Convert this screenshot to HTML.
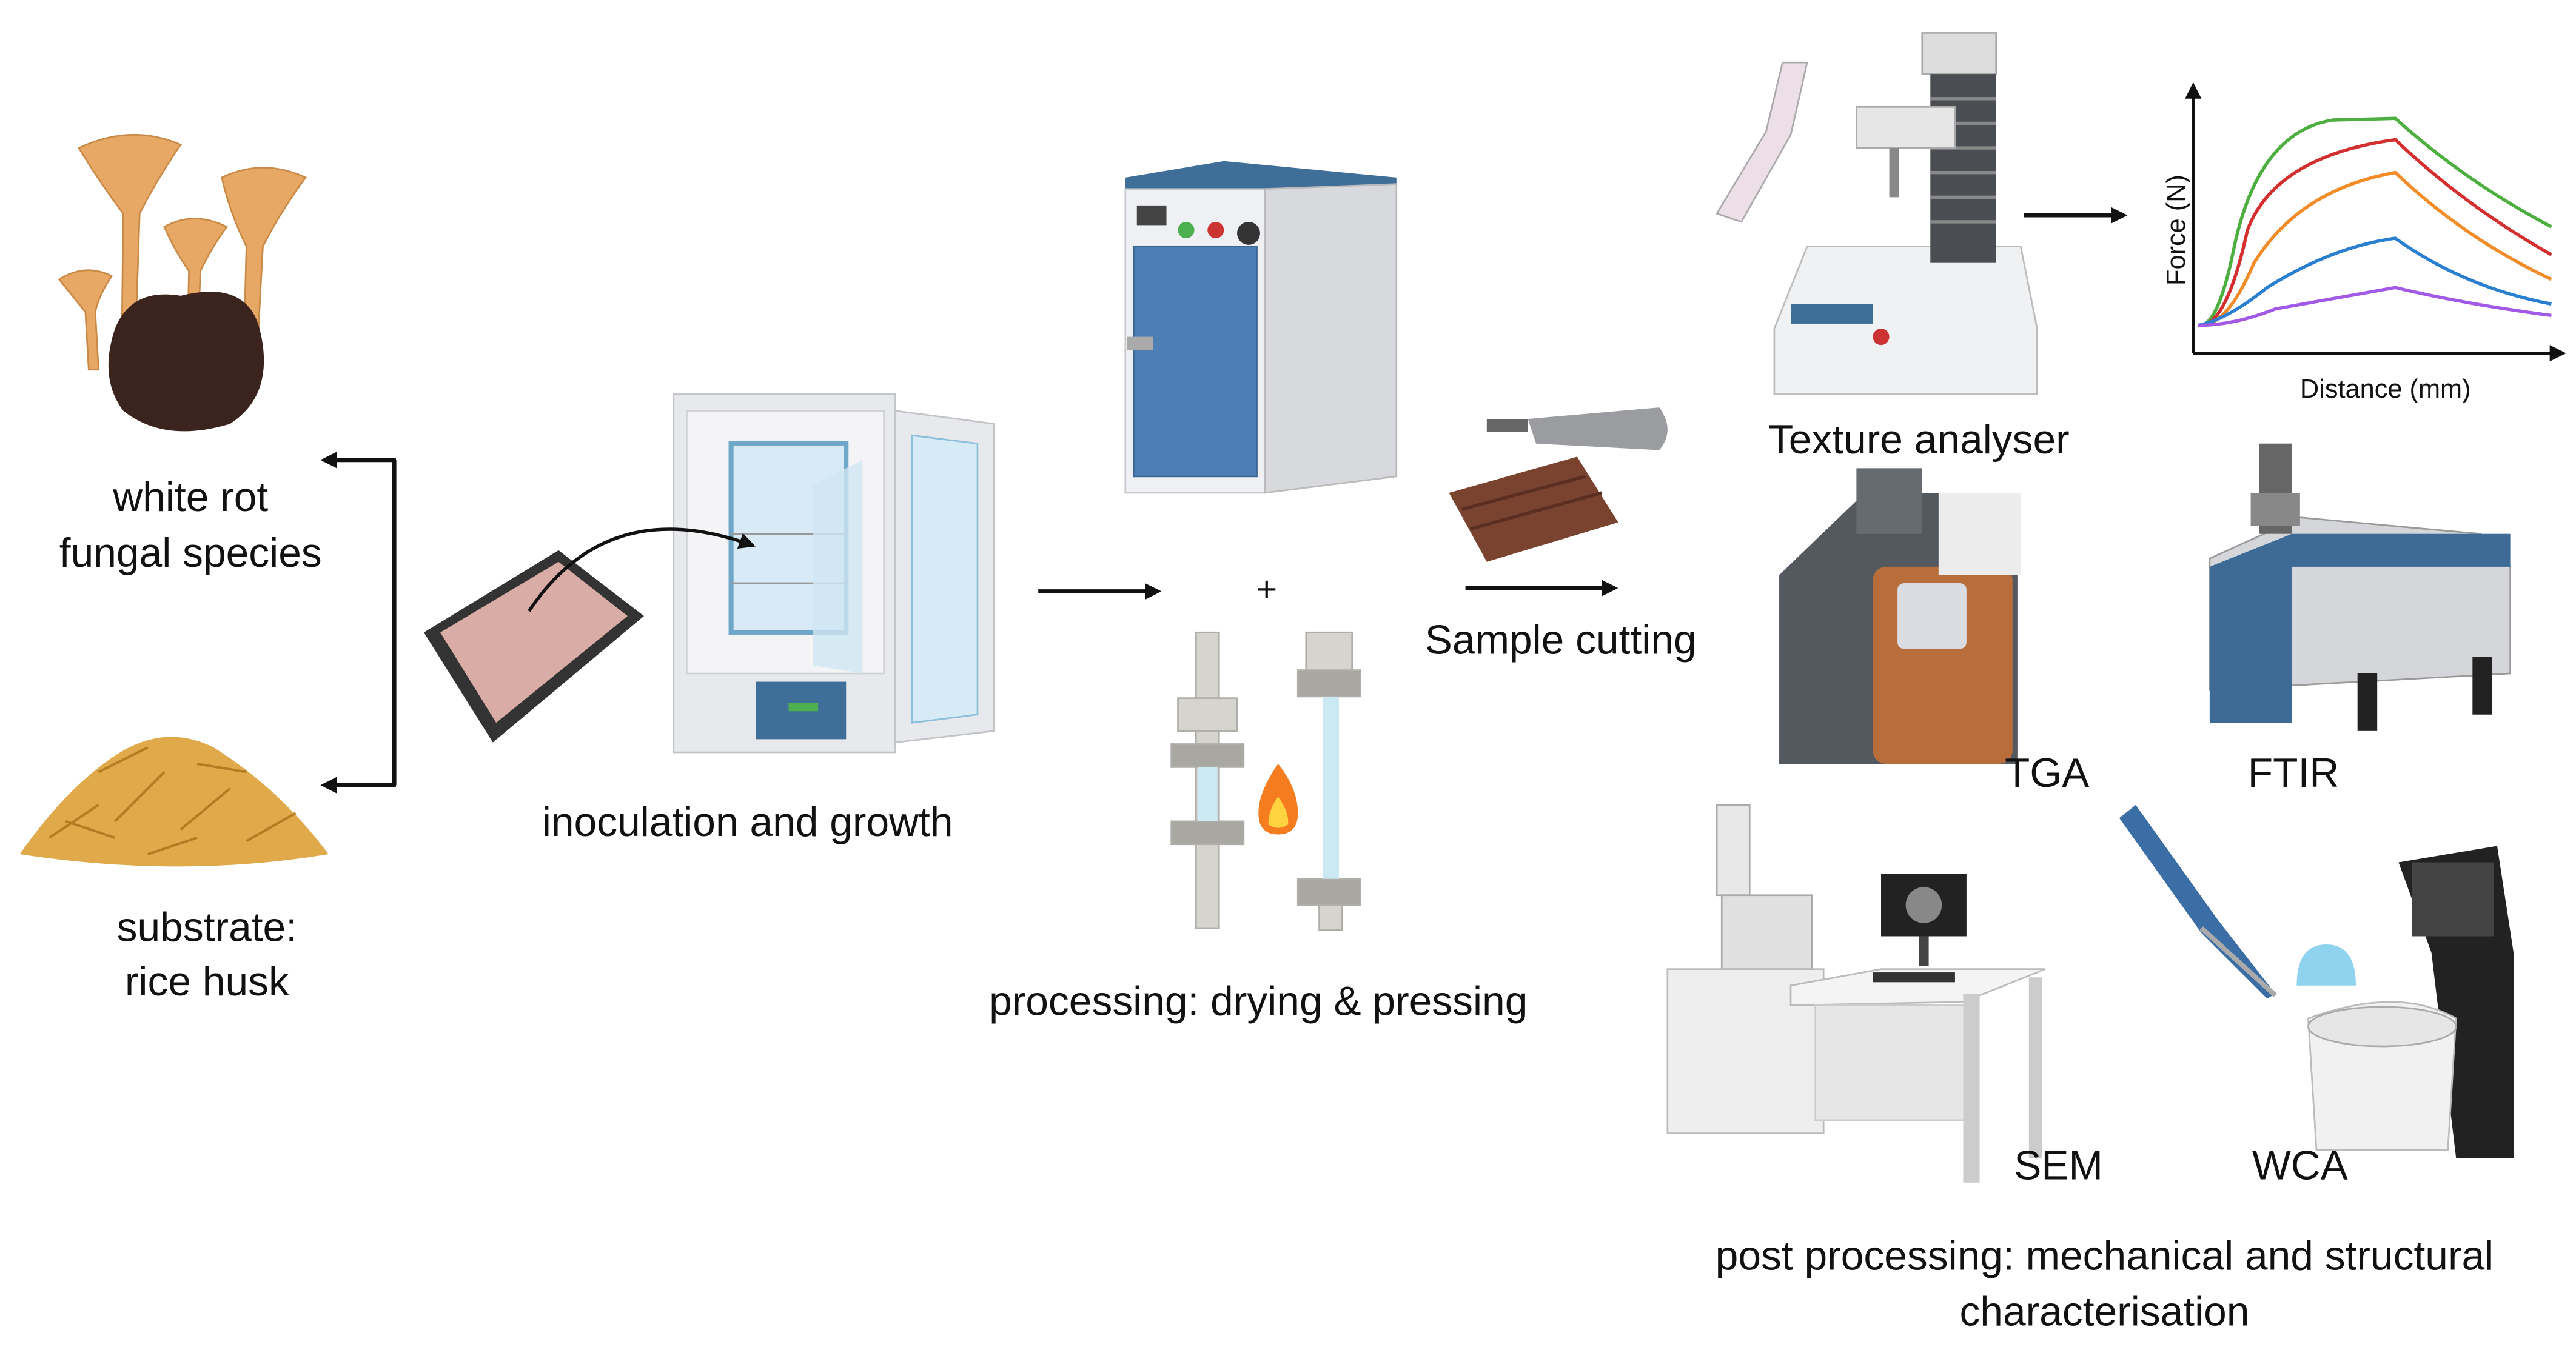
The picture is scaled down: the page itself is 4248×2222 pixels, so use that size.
<!DOCTYPE html>
<html><head><meta charset="utf-8"><style>
html,body{margin:0;padding:0;background:#fff;}
svg{display:block;}
text{font-family:"Liberation Sans",sans-serif;fill:#111;}
</style></head><body>
<svg width="4248" height="2222" viewBox="0 0 1568 820" xmlns="http://www.w3.org/2000/svg">
<defs>
<marker id="ah" markerWidth="10" markerHeight="10" refX="8" refY="5" orient="auto" markerUnits="userSpaceOnUse"><path d="M0,0 L10,5 L0,10 z" fill="#111"/></marker>
</defs>
<rect width="1568" height="820" fill="#fff"/>

<!-- mushrooms -->
<g fill="#e7a865" stroke="#c98a48" stroke-width="1">
<path d="M48,90 Q80,75 110,88 Q95,110 85,130 L82,220 L74,220 L75,130 Q60,110 48,90z"/>
<path d="M135,108 Q160,96 186,108 Q170,130 160,150 L156,225 L148,225 L150,150 Q140,130 135,108z"/>
<path d="M100,138 Q118,128 138,138 Q128,152 122,165 L120,215 L114,215 L115,165 Q106,152 100,138z"/>
<path d="M36,170 Q52,160 68,168 Q60,180 58,190 L60,225 L54,225 L52,190 Q44,180 36,170z"/>
</g>
<path d="M70,200 Q80,175 110,180 Q150,170 158,200 Q168,240 140,258 Q100,270 75,250 Q60,230 70,200z" fill="#3b241d"/>
<text x="116" y="311" font-size="25" text-anchor="middle">white rot</text>
<text x="116" y="345" font-size="25" text-anchor="middle">fungal species</text>

<!-- rice husk -->
<path d="M12,520 Q40,480 70,460 Q100,440 130,455 Q170,480 200,520 Q110,535 12,520z" fill="#e0a94a"/>
<g stroke="#b57c23" stroke-width="1.5">
<path d="M30,510 L60,490 M70,500 L100,470 M110,505 L140,480 M150,512 L180,495 M60,470 L90,455 M120,465 L150,470 M90,520 L120,510 M40,500 L70,510"/>
</g>
<text x="126" y="573" font-size="25" text-anchor="middle">substrate:</text>
<text x="126" y="606" font-size="25" text-anchor="middle">rice husk</text>

<!-- bracket -->
<path d="M240,280 L240,478" stroke="#111" stroke-width="2.5" fill="none"/>
<path d="M241,280 L197,280" stroke="#111" stroke-width="2.5" marker-end="url(#ah)"/>
<path d="M241,478 L197,478" stroke="#111" stroke-width="2.5" marker-end="url(#ah)"/>

<!-- tray -->
<path d="M258,385 L340,335 L392,375 L300,452z" fill="#333"/>
<path d="M268,385 L340,342 L382,375 L302,440z" fill="#d9aca5"/>

<!-- incubator -->
<rect x="410" y="240" width="135" height="218" fill="#e8e9ec" stroke="#c2c4c8"/>
<rect x="418" y="250" width="120" height="160" fill="#f4f4f6" stroke="#cfd1d5"/>
<rect x="445" y="270" width="70" height="115" fill="#d8eaf5" stroke="#6fa7c9" stroke-width="3"/>
<line x1="445" y1="325" x2="515" y2="325" stroke="#999"/>
<line x1="445" y1="355" x2="515" y2="355" stroke="#999"/>
<rect x="460" y="415" width="55" height="35" fill="#3f6f99"/>
<rect x="480" y="428" width="18" height="5" fill="#4caf50"/>
<path d="M545,250 L605,258 L605,445 L545,452z" fill="#e8e9ec" stroke="#c2c4c8"/>
<path d="M555,265 L595,270 L595,435 L555,440z" fill="#d6ebf6" stroke="#8bbfdc"/>
<path d="M495,295 L525,280 L525,410 L495,405z" fill="#cfe6f2" opacity=".8"/>
<path d="M322,372 Q370,300 458,332" stroke="#111" stroke-width="2" fill="none" marker-end="url(#ah)"/>
<text x="455" y="509" font-size="25" text-anchor="middle">inoculation and growth</text>

<path d="M632,360 L705,360" stroke="#111" stroke-width="2.5" marker-end="url(#ah)"/>

<!-- oven -->
<path d="M685,108 L745,98 L850,108 L850,118 L685,118z" fill="#3f6f99"/>
<rect x="685" y="115" width="85" height="185" fill="#eef0f3" stroke="#c7c9cd"/>
<path d="M770,115 L850,112 L850,290 L770,300z" fill="#d7d9dd" stroke="#bbb"/>
<rect x="690" y="150" width="75" height="140" fill="#4e7fb4" stroke="#3b6592"/>
<rect x="692" y="125" width="18" height="12" fill="#444"/>
<circle cx="722" cy="140" r="5" fill="#4caf50"/><circle cx="740" cy="140" r="5" fill="#c33"/><circle cx="760" cy="142" r="7" fill="#333"/>
<rect x="686" y="205" width="16" height="8" fill="#aaa"/>
<text x="771" y="366" font-size="22" text-anchor="middle">+</text>

<!-- press rods -->
<g fill="#d6d4cf" stroke="#b0aea8">
<rect x="728" y="385" width="14" height="180"/>
<rect x="717" y="425" width="36" height="20"/>
<rect x="713" y="453" width="44" height="14" fill="#a9a7a2"/>
<rect x="713" y="500" width="44" height="14" fill="#a9a7a2"/>
<rect x="795" y="385" width="28" height="30"/>
<rect x="790" y="408" width="38" height="16" fill="#a9a7a2"/>
<rect x="790" y="535" width="38" height="16" fill="#a9a7a2"/>
<rect x="803" y="551" width="14" height="15"/>
</g>
<rect x="729" y="467" width="12" height="33" fill="#cbe9f3"/>
<rect x="805" y="424" width="10" height="111" fill="#cbe9f3"/>
<path d="M778,465 Q790,480 790,495 Q790,508 778,508 Q766,508 766,495 Q766,482 778,465z" fill="#f57c1f"/>
<path d="M778,485 Q785,495 784,502 Q778,506 772,502 Q772,493 778,485z" fill="#ffd23f"/>
<text x="766" y="618" font-size="25" text-anchor="middle">processing: drying &amp; pressing</text>

<!-- dremel & wood -->
<path d="M930,255 L1010,248 Q1020,262 1010,274 L935,270z" fill="#9a9ca0"/>
<rect x="905" y="255" width="25" height="8" fill="#666"/>
<path d="M882,300 L960,278 L985,318 L905,342z" fill="#7a4330"/>
<path d="M890,310 L965,290 M895,322 L975,300" stroke="#5a2f22" stroke-width="2"/>
<path d="M892,358 L983,358" stroke="#111" stroke-width="2.5" marker-end="url(#ah)"/>
<text x="950" y="398" font-size="25" text-anchor="middle">Sample cutting</text>

<!-- texture analyser -->
<path d="M1045,130 L1075,80 L1085,38 L1100,38 L1090,82 L1060,135z" fill="#ecdfe8" stroke="#aaa"/>
<path d="M1080,200 L1100,150 L1230,150 L1240,200 L1240,240 L1080,240z" fill="#f0f1f3" stroke="#bbb"/>
<rect x="1090" y="185" width="50" height="12" fill="#3f6f99"/>
<circle cx="1145" cy="205" r="5" fill="#c33"/>
<rect x="1170" y="20" width="45" height="25" fill="#ddd" stroke="#aaa"/>
<rect x="1175" y="45" width="40" height="115" fill="#4a4d52"/>
<g stroke="#888" stroke-width="2"><path d="M1175,60h40M1175,75h40M1175,90h40M1175,105h40M1175,120h40M1175,135h40"/></g>
<rect x="1130" y="65" width="60" height="25" fill="#e6e6e6" stroke="#aaa"/>
<rect x="1150" y="90" width="6" height="30" fill="#888"/>
<text x="1168" y="276" font-size="25" text-anchor="middle">Texture analyser</text>
<path d="M1232,131 L1293,131" stroke="#111" stroke-width="2.5" marker-end="url(#ah)"/>

<!-- graph -->
<path d="M1335,215 L1335,52" stroke="#111" stroke-width="2" marker-end="url(#ah)"/>
<path d="M1335,215 L1560,215" stroke="#111" stroke-width="2" marker-end="url(#ah)"/>
<g fill="none" stroke-width="2">
<path d="M1338,198 Q1350,200 1360,150 Q1375,80 1420,73 L1458,72 Q1500,110 1553,138" stroke="#4caf3f"/>
<path d="M1338,198 Q1355,200 1368,140 Q1385,95 1458,85 Q1500,125 1553,155" stroke="#d32f2f"/>
<path d="M1338,198 Q1355,200 1372,160 Q1400,115 1458,105 Q1500,145 1553,170" stroke="#f28c28"/>
<path d="M1338,198 Q1355,195 1380,175 Q1420,150 1458,145 Q1500,175 1553,185" stroke="#2a7fd0"/>
<path d="M1338,198 Q1360,198 1385,188 Q1430,180 1458,175 Q1500,185 1553,192" stroke="#a259e6"/>
</g>
<text x="1330" y="140" font-size="16" text-anchor="middle" transform="rotate(-90 1330 140)">Force (N)</text>
<text x="1452" y="242" font-size="16" text-anchor="middle">Distance (mm)</text>

<!-- TGA -->
<path d="M1083,350 L1135,300 L1200,300 L1228,340 L1228,465 L1083,465z" fill="#54585f"/>
<rect x="1130" y="285" width="40" height="40" fill="#666b72"/>
<rect x="1140" y="345" width="85" height="120" rx="8" fill="#b86d3a"/>
<rect x="1155" y="355" width="42" height="40" rx="4" fill="#d9dde2"/>
<rect x="1180" y="300" width="50" height="50" fill="#ececec"/>
<text x="1246" y="479" font-size="25" text-anchor="middle">TGA</text>

<!-- FTIR -->
<path d="M1345,340 L1400,315 L1510,325 L1528,345 L1528,410 L1345,420z" fill="#d4d6d9" stroke="#999"/>
<path d="M1345,345 L1395,325 L1395,440 L1345,440z" fill="#3e6b96"/>
<rect x="1395" y="325" width="133" height="20" fill="#3e6b96"/>
<rect x="1375" y="270" width="20" height="55" fill="#666"/>
<rect x="1370" y="300" width="30" height="20" fill="#888"/>
<rect x="1435" y="410" width="12" height="35" fill="#222"/><rect x="1505" y="400" width="12" height="35" fill="#222"/>
<text x="1396" y="479" font-size="25" text-anchor="middle">FTIR</text>

<!-- SEM -->
<rect x="1045" y="490" width="20" height="55" fill="#e8e8e8" stroke="#aaa"/>
<rect x="1048" y="545" width="55" height="45" fill="#e0e0e0" stroke="#aaa"/>
<rect x="1015" y="590" width="95" height="100" fill="#eee" stroke="#bbb"/>
<path d="M1090,600 L1145,590 L1245,590 L1195,610 L1090,612z" fill="#f4f4f4" stroke="#bbb"/>
<rect x="1105" y="612" width="95" height="70" fill="#e6e6e6" stroke="#ccc"/>
<rect x="1195" y="605" width="10" height="115" fill="#ccc"/>
<rect x="1235" y="595" width="8" height="110" fill="#ccc"/>
<rect x="1145" y="532" width="52" height="38" fill="#222"/>
<circle cx="1171" cy="551" r="11" fill="#888"/>
<rect x="1168" y="570" width="6" height="18" fill="#444"/>
<rect x="1140" y="592" width="50" height="6" fill="#333"/>
<text x="1253" y="718" font-size="25" text-anchor="middle">SEM</text>

<!-- pipette -->
<path d="M1290,498 L1300,490 L1350,560 L1385,605 L1380,608 L1340,568z" fill="#3a6ea5"/>
<path d="M1340,565 L1385,606" stroke="#aaa" stroke-width="3"/>
<!-- WCA -->
<path d="M1460,525 L1520,515 L1530,580 L1530,705 L1495,705 L1480,580z" fill="#222"/>
<rect x="1468" y="525" width="50" height="45" fill="#444"/>
<path d="M1405,620 Q1460,600 1495,620 L1490,700 L1410,700z" fill="#f1f1f1" stroke="#bbb"/>
<ellipse cx="1450" cy="625" rx="45" ry="12" fill="#e6e6e6" stroke="#aaa"/>
<path d="M1398,600 Q1398,575 1416,575 Q1434,575 1434,600z" fill="#8fd3ef"/>
<text x="1400" y="718" font-size="25" text-anchor="middle">WCA</text>

<text x="1281" y="773" font-size="25" text-anchor="middle">post processing: mechanical and structural</text>
<text x="1281" y="807" font-size="25" text-anchor="middle">characterisation</text>
</svg>
</body></html>
